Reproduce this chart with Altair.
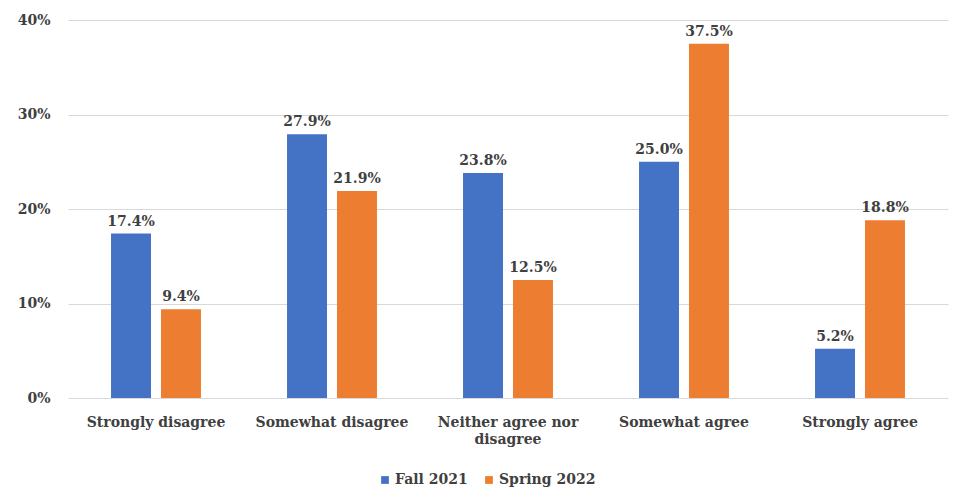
import altair as alt
import pandas as pd

categories = ["Strongly disagree", "Somewhat disagree", "Neither agree nor disagree", "Somewhat agree", "Strongly agree"]
series = ["Fall 2021", "Spring 2022"]
fall_2021 = [17.4, 27.9, 23.8, 25.0, 5.2]
spring_2022 = [9.4, 21.9, 12.5, 37.5, 18.8]

rows = []
for c, f, s in zip(categories, fall_2021, spring_2022):
    rows.append({"category": c, "series": series[0], "value": f})
    rows.append({"category": c, "series": series[1], "value": s})
df = pd.DataFrame(rows)

FONT = "DejaVu Serif"
TXT = "#404040"

x = alt.X("category:N", sort=categories, title=None,
          scale=alt.Scale(paddingInner=0.489, paddingOuter=0.2445),
          axis=alt.Axis(labelAngle=0, labelFont=FONT, labelFontSize=14, labelFontWeight="bold",
                        labelColor=TXT, labelPadding=17, ticks=False, domain=False, labelLimit=300,
                        labelLineHeight=17,
                        labelExpr="datum.label == 'Neither agree nor disagree' ? ['Neither agree nor', 'disagree'] : datum.label"))
y = alt.Y("value:Q", title=None,
          scale=alt.Scale(domain=[0, 40], nice=False),
          axis=alt.Axis(values=[0, 10, 20, 30, 40], labelExpr="datum.value + '%'",
                        labelFont=FONT, labelFontSize=14, labelFontWeight="bold", labelColor=TXT,
                        labelPadding=18, ticks=False, domain=False,
                        gridColor="#d9d9d9", gridWidth=1))
xoff = alt.XOffset("series:N", sort=series, scale=alt.Scale(paddingInner=0.2))
color = alt.Color("series:N", sort=series,
                  scale=alt.Scale(domain=series, range=["#4472C4", "#ED7D31"]),
                  legend=alt.Legend(title=None, orient="none", direction="horizontal",
                                    legendX=310, legendY=453, symbolType="square",
                                    symbolSize=60, symbolStrokeWidth=0,
                                    labelFont=FONT, labelFontSize=14, labelFontWeight="bold",
                                    labelColor=TXT, columnPadding=14, labelOffset=3))

base = alt.Chart(df)
bars = base.mark_bar().encode(x=x, y=y, xOffset=xoff, color=color)
labels = base.transform_calculate(lbl="format(datum.value, '.1f') + '%'").mark_text(
    dy=-12, font=FONT, fontSize=14, fontWeight="bold", color=TXT).encode(
    x=x, y=y, xOffset=xoff, text="lbl:N")

chart = (bars + labels).properties(
    width=880, height=378,
    autosize=alt.AutoSizeParams(type="none"),
    padding={"left": 68, "top": 20, "right": 8, "bottom": 95},
    background="white",
).configure_view(stroke=None)

chart.save("out.html", embed_options={"renderer": "svg", "actions": False})
